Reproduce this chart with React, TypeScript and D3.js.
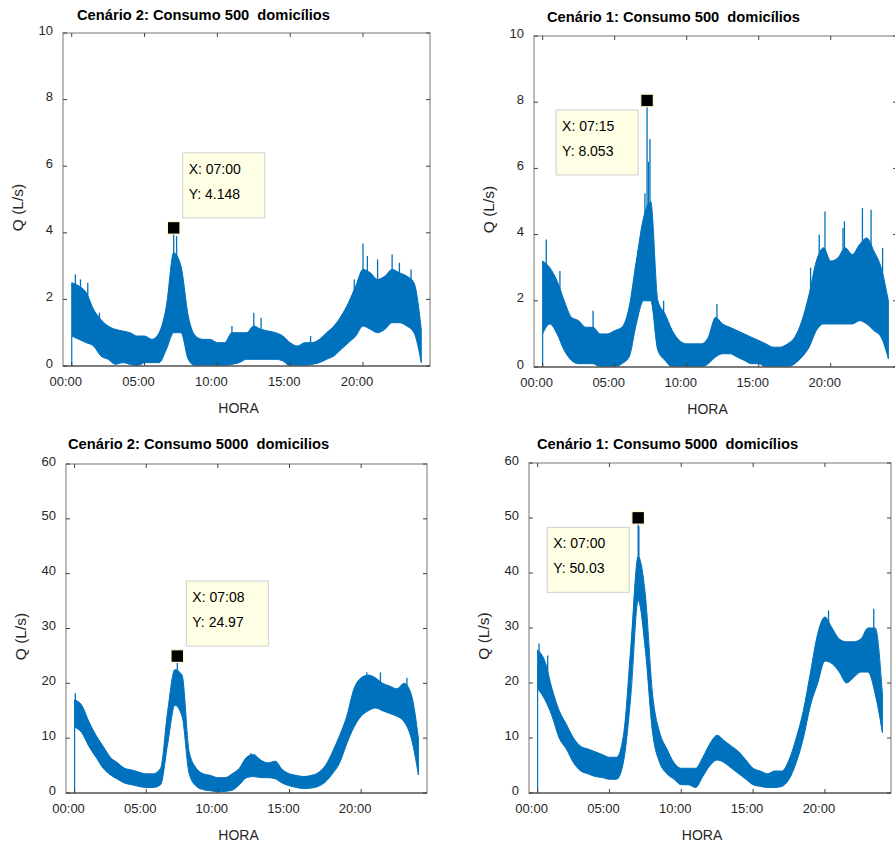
import * as d3 from "d3";

// half-hour grid of the day
const HOURS = [0, 0.5, 1, 1.5, 2, 2.5, 3, 3.5, 4, 4.5, 5, 5.5, 6, 6.5, 7, 7.5, 8, 8.5, 9, 9.5, 10, 10.5, 11, 11.5, 12,
  12.5, 13, 13.5, 14, 14.5, 15, 15.5, 16, 16.5, 17, 17.5, 18, 18.5, 19, 19.5, 20, 20.5, 21, 21.5, 22, 22.5, 23, 23.5, 24];
const X_TICKS = [0, 5, 10, 15, 20];
const X_TICK_LABELS = ["00:00", "05:00", "10:00", "15:00", "20:00"];
const Y_TICKS_500 = [0, 2, 4, 6, 8, 10];
const Y_TICKS_5000 = [0, 10, 20, 30, 40, 50, 60];

// Cenário 2, 500 domicílios: band low / high (L/s)
const C2_500_LO = [0.9, 0.8, 0.7, 0.6, 0.3, 0.2, 0.05, 0.1, 0.05, 0, 0.1, 0.1, 0.1, 0.5, 1.0, 1.0, 0.2, 0, 0, 0, 0, 0, 0.05, 0.1, 0.2,
  0.2, 0.2, 0.2, 0.2, 0.15, 0, 0, 0, 0.05, 0.1, 0.2, 0.3, 0.5, 0.7, 0.9, 1.2, 1.1, 1.0, 1.1, 1.3, 1.3, 1.2, 1.0, 0.1];
const C2_500_HI = [2.5, 2.4, 2.2, 1.7, 1.4, 1.2, 1.1, 1.05, 1.0, 0.9, 0.9, 0.8, 1.0, 1.8, 3.4, 3.0, 1.5, 0.9, 0.8, 0.8, 0.7, 0.7, 1.0, 1.0, 1.0,
  1.2, 1.1, 1.05, 1.0, 0.9, 0.7, 0.6, 0.7, 0.7, 0.8, 1.0, 1.2, 1.5, 1.9, 2.4, 2.9, 2.8, 2.6, 2.7, 2.9, 2.8, 2.7, 2.5, 1.1];
const C2_500_SPIKES = [[7.0, 2.0, 4.148], [7.2, 2.0, 3.9], [20.0, 1.5, 3.68], [20.3, 1.5, 3.3], [22.0, 1.5, 3.35], [0.25, 1.0, 2.75],
  [12.5, 0.3, 1.6], [13.0, 0.3, 1.45], [0.6, 1.0, 2.6], [1.1, 0.8, 2.5], [1.9, 0.5, 1.6], [11.0, 0.2, 1.2], [16.4, 0.2, 0.9],
  [21.0, 1.5, 3.2], [22.5, 1.5, 3.1], [23.3, 1.5, 2.9], [19.4, 1.0, 2.6]];

// Cenário 1, 500 domicílios
const C1_500_LO = [1.0, 1.3, 1.0, 0.5, 0.2, 0.1, 0.1, 0.1, 0, 0, 0, 0.1, 0.3, 1.3, 2.0, 2.0, 0.5, 0.2, 0, 0, 0, 0, 0, 0.1, 0.3,
  0.4, 0.4, 0.3, 0.2, 0.1, 0.1, 0, 0, 0, 0, 0.1, 0.3, 0.6, 1.1, 1.3, 1.3, 1.3, 1.3, 1.3, 1.4, 1.3, 1.1, 0.9, 0.25];
const C1_500_HI = [3.2, 3.0, 2.6, 2.0, 1.5, 1.4, 1.2, 1.2, 1.0, 1.0, 1.1, 1.2, 1.8, 3.2, 4.5, 5.0, 2.0, 1.6, 1.1, 0.8, 0.7, 0.7, 0.7, 0.9, 1.5,
  1.3, 1.2, 1.1, 1.0, 0.9, 0.8, 0.7, 0.6, 0.6, 0.7, 0.9, 1.4, 2.2, 3.2, 3.6, 3.2, 3.3, 3.6, 3.4, 3.7, 3.9, 3.5, 3.0, 2.0];
const C1_500_SPIKES = [[7.25, 3.0, 8.053], [7.45, 3.0, 6.88], [7.1, 3.0, 5.25], [7.35, 3.0, 6.2], [0.25, 2.0, 3.85], [12.1, 0.8, 1.9],
  [19.6, 2.0, 4.7], [20.95, 2.0, 4.4], [22.2, 2.0, 4.8], [22.8, 2.0, 4.75], [19.2, 2.0, 4.0], [20.85, 2.0, 4.2],
  [1.2, 1.0, 2.9], [3.5, 0.3, 1.7], [8.4, 0.5, 2.0], [18.6, 1.0, 3.0], [23.6, 1.0, 3.6]];

// Cenário 2, 5000 domicílios
const C2_5000_LO = [12, 11, 8.5, 6.5, 4.5, 3.3, 2.5, 1.8, 1.5, 1.2, 1.0, 1.0, 1.5, 9, 16, 14, 3.5, 1.2, 0.6, 0.4, 0.2, 0.3, 0.5, 1.5, 2.8,
  3.0, 2.8, 2.8, 2.6, 1.8, 1.3, 1.0, 0.8, 0.9, 1.2, 2.0, 3.5, 5.5, 9, 12, 14, 15, 15.5, 15, 14.5, 14, 13, 10, 3.3];
const C2_5000_HI = [17, 16, 13, 10.5, 8.5, 6.5, 5.5, 4.5, 4.2, 3.8, 3.5, 3.5, 4.5, 15, 22.5, 21.5, 7.5, 4.5, 3.5, 3.2, 2.8, 2.8, 3.5, 4.5, 6.5,
  7.0, 6.0, 5.5, 5.8, 4.3, 3.5, 3.2, 3.0, 3.2, 3.7, 5.0, 7.5, 10.5, 14, 19, 21, 21.5, 21, 20, 19.5, 19, 20, 18, 10];
const C2_5000_SPIKES = [[7.17, 18, 24.97], [0.05, 12, 18.2], [20.4, 18, 22], [21.35, 18, 22], [23.2, 16, 21], [12.3, 3, 7.3], [13.9, 3, 5.7]];

// Cenário 1, 5000 domicílios
const C1_5000_LO = [19, 17, 14, 10, 8, 5.5, 4, 3.5, 3.0, 2.8, 2.5, 2.5, 6, 18, 35, 26, 11, 5.5, 3.5, 2.5, 1.5, 1.5, 1.0, 3, 5,
  6, 5.5, 4.5, 3.5, 2.5, 1.5, 1.2, 1.0, 1.0, 1.2, 2.5, 5.5, 10, 16, 20, 24, 23.5, 22, 20, 21, 22, 22, 18, 11];
const C1_5000_HI = [26, 24, 19, 15, 12.5, 10, 8.5, 8, 7.5, 7.0, 6.5, 6.5, 11, 27, 43, 36, 18, 11, 8, 5.5, 4.5, 4.5, 4.5, 6.5, 9,
  10.5, 9.5, 8.5, 7.5, 6, 4.5, 4, 3.5, 4, 4, 6, 10, 15, 22, 29, 32, 30, 28, 27.5, 27.5, 28, 30, 30, 18];
const C1_5000_SPIKES = [[7.0, 40, 50.03], [7.05, 40, 48.5], [23.4, 25, 33.5], [20.25, 27, 33.2], [0.1, 20, 27.2], [0.7, 18, 25]];

const FONT = "'Liberation Sans', Arial, Helvetica, sans-serif";
const BLUE = "#0072BD";
const X_DOMAIN = [-0.6, 24.6];

interface PanelProps {
  title: string;
  titleX: number;
  titleY: number;
  box: { l: number; t: number; r: number; b: number };
  yMax: number;
  yTicks: number[];
  lo: number[];
  hi: number[];
  spikes: number[][];
  tip: { x: number; y: number; xLabel: string; yLabel: string; place: "upright" | "downleft" };
}

function Panel(p: PanelProps) {
  const x = d3.scaleLinear().domain(X_DOMAIN).range([p.box.l, p.box.r]);
  const y = d3.scaleLinear().domain([0, p.yMax]).range([p.box.b, p.box.t]);
  const rows = HOURS.map((h, i) => ({ h, lo: p.lo[i], hi: p.hi[i] }));
  const area = d3.area<{ h: number; lo: number; hi: number }>()
    .x(d => x(d.h))
    .y0(d => y(d.lo))
    .y1(d => y(d.hi))
    .curve(d3.curveMonotoneX);
  const midX = (p.box.l + p.box.r) / 2;
  const midY = (p.box.t + p.box.b) / 2;
  const mx = x(p.tip.x);
  const my = y(p.tip.y);
  const tipW = 82;
  const tipH = 65;
  const tx = p.tip.place === "upright" ? mx + 9 : mx - 9 - tipW;
  const ty = p.tip.place === "upright" ? my - 10 - tipH : my + 9.5;
  const clipId = "clip" + p.box.l + "_" + p.box.t;

  return (
    <g fontFamily={FONT}>
      <text x={p.titleX} y={p.titleY} fontSize={14.7} fontWeight="bold" fill="#000"
        style={{ whiteSpace: "pre" }}>{p.title}</text>

      <clipPath id={clipId}>
        <rect x={p.box.l} y={p.box.t} width={p.box.r - p.box.l} height={p.box.b - p.box.t} />
      </clipPath>
      <g clipPath={`url(#${clipId})`}>
        <path d={area(rows) ?? ""} fill={BLUE} stroke={BLUE} strokeWidth={1} />
        <line x1={x(HOURS[0])} x2={x(HOURS[0])} y1={y(0)} y2={y(p.lo[0])} stroke={BLUE} strokeWidth={1.2} />
        {p.spikes.map((s, i) => (
          <line key={i} x1={x(s[0])} x2={x(s[0])} y1={y(s[1])} y2={y(s[2])} stroke={BLUE} strokeWidth={1.3} />
        ))}
      </g>

      {/* box */}
      <rect x={p.box.l} y={p.box.t} width={p.box.r - p.box.l} height={p.box.b - p.box.t}
        fill="none" stroke="#8c8c8c" strokeWidth={1.2} />
      <line x1={p.box.l} x2={p.box.r} y1={p.box.b} y2={p.box.b} stroke="#404040" strokeWidth={1.2} />

      {X_TICKS.map((t, i) => (
        <g key={"x" + t}>
          <line x1={x(t)} x2={x(t)} y1={p.box.b} y2={p.box.b - 4} stroke="#404040" />
          <line x1={x(t)} x2={x(t)} y1={p.box.t} y2={p.box.t + 4} stroke="#404040" />
          <text x={x(t) - 6} y={p.box.b + 20} fontSize={13} textAnchor="middle" fill="#262626">{X_TICK_LABELS[i]}</text>
        </g>
      ))}
      {p.yTicks.map(t => (
        <g key={"y" + t}>
          <line x1={p.box.l} x2={p.box.l + 4} y1={y(t)} y2={y(t)} stroke="#404040" />
          <line x1={p.box.r} x2={p.box.r - 4} y1={y(t)} y2={y(t)} stroke="#404040" />
          <text x={p.box.l - 10} y={y(t) + 1.6} fontSize={13} textAnchor="end" fill="#262626">{t}</text>
        </g>
      ))}

      <text x={midX - 8} y={p.box.b + 47} fontSize={14} textAnchor="middle" fill="#262626">HORA</text>
      <text transform={`translate(${p.box.l - 40},${midY + 8}) rotate(-90)`} fontSize={15.5}
        textAnchor="middle" fill="#262626">Q (L/s)</text>

      {/* data tip */}
      <rect x={mx - 6.3} y={my - 6.3} width={12.6} height={12.6} fill="#000" stroke="#fffbd0" strokeWidth={1.2} />
      <rect x={tx} y={ty} width={tipW} height={tipH} fill="#ffffe5" stroke="#cfcfcf" strokeWidth={1} />
      <text x={tx + 6} y={ty + 21} fontSize={14} fill="#000">{"X: " + p.tip.xLabel}</text>
      <text x={tx + 6} y={ty + 46} fontSize={14} fill="#000">{"Y: " + p.tip.yLabel}</text>
    </g>
  );
}

export default function App() {
  return (
    <svg width={895} height={844} style={{ position: "absolute", left: 0, top: 0, background: "#fff" }}>
      <Panel title="Cenário 2: Consumo 500  domicílios" titleX={77} titleY={19.5}
        box={{ l: 63, t: 33, r: 430, b: 366 }} yMax={10} yTicks={Y_TICKS_500}
        lo={C2_500_LO} hi={C2_500_HI} spikes={C2_500_SPIKES}
        tip={{ x: 7.0, y: 4.148, xLabel: "07:00", yLabel: "4.148", place: "upright" }} />
      <Panel title="Cenário 1: Consumo 500  domicílios" titleX={547} titleY={21.5}
        box={{ l: 534, t: 36, r: 897, b: 367 }} yMax={10} yTicks={Y_TICKS_500}
        lo={C1_500_LO} hi={C1_500_HI} spikes={C1_500_SPIKES}
        tip={{ x: 7.25, y: 8.053, xLabel: "07:15", yLabel: "8.053", place: "downleft" }} />
      <Panel title="Cenário 2: Consumo 5000  domicilios" titleX={68} titleY={448.5}
        box={{ l: 66, t: 464, r: 427, b: 793 }} yMax={60} yTicks={Y_TICKS_5000}
        lo={C2_5000_LO} hi={C2_5000_HI} spikes={C2_5000_SPIKES}
        tip={{ x: 7.17, y: 24.97, xLabel: "07:08", yLabel: "24.97", place: "upright" }} />
      <Panel title="Cenário 1: Consumo 5000  domicílios" titleX={537} titleY={449}
        box={{ l: 529, t: 463, r: 891, b: 793 }} yMax={60} yTicks={Y_TICKS_5000}
        lo={C1_5000_LO} hi={C1_5000_HI} spikes={C1_5000_SPIKES}
        tip={{ x: 7.0, y: 50.03, xLabel: "07:00", yLabel: "50.03", place: "downleft" }} />
    </svg>
  );
}
